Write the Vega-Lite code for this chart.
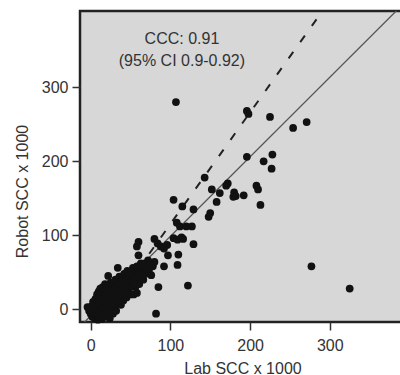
{
  "$schema": "https://vega.github.io/schema/vega-lite/v6.json",
  "width": 325,
  "height": 311,
  "autosize": {"type": "none"},
  "padding": {"left": 80, "top": 11, "right": 0, "bottom": 53},
  "background": "white",
  "config": {
    "view": {"fill": "#d7d7d7", "stroke": "#222222", "strokeWidth": 2.5},
    "font": "Liberation Sans",
    "axis": {
      "domain": false,
      "grid": false,
      "tickSize": 8,
      "tickWidth": 1.5,
      "tickColor": "#333333",
      "labelFontSize": 16,
      "labelColor": "#333333",
      "titleFontSize": 16,
      "titleFontWeight": "normal",
      "titleColor": "#333333",
      "titleBaseline": "alphabetic"
    }
  },
  "datasets": {
    "points": [
      {"lab": -4, "robot": 3}, {"lab": -2, "robot": -2}, {"lab": 0, "robot": -6}, {"lab": 1, "robot": 4}, {"lab": 2, "robot": -10},
      {"lab": 3, "robot": 0}, {"lab": 3, "robot": 10}, {"lab": 4, "robot": -5}, {"lab": 5, "robot": -12}, {"lab": 5, "robot": 6},
      {"lab": 6, "robot": 14}, {"lab": 6, "robot": -2}, {"lab": 7, "robot": -8}, {"lab": 8, "robot": 2}, {"lab": 8, "robot": 20},
      {"lab": 9, "robot": -14}, {"lab": 9, "robot": 10}, {"lab": 10, "robot": -4}, {"lab": 10, "robot": 24}, {"lab": 11, "robot": 5},
      {"lab": 11, "robot": 16}, {"lab": 12, "robot": -10}, {"lab": 12, "robot": 28}, {"lab": 13, "robot": 0}, {"lab": 13, "robot": 12},
      {"lab": 14, "robot": 20}, {"lab": 14, "robot": -13}, {"lab": 15, "robot": 6}, {"lab": 15, "robot": 30}, {"lab": 16, "robot": -6},
      {"lab": 16, "robot": 15}, {"lab": 17, "robot": 24}, {"lab": 17, "robot": 2}, {"lab": 18, "robot": 10}, {"lab": 18, "robot": 34},
      {"lab": 19, "robot": -10}, {"lab": 19, "robot": 18}, {"lab": 20, "robot": 26}, {"lab": 20, "robot": 4}, {"lab": 21, "robot": 12},
      {"lab": 21, "robot": -4}, {"lab": 22, "robot": 45}, {"lab": 22, "robot": 20}, {"lab": 23, "robot": 30}, {"lab": 23, "robot": 8},
      {"lab": 24, "robot": -12}, {"lab": 24, "robot": 15}, {"lab": 25, "robot": 24}, {"lab": 25, "robot": 36}, {"lab": 26, "robot": 2},
      {"lab": 26, "robot": 18}, {"lab": 27, "robot": 10}, {"lab": 27, "robot": 28}, {"lab": 28, "robot": -6}, {"lab": 28, "robot": 22},
      {"lab": 29, "robot": 34}, {"lab": 30, "robot": 14}, {"lab": 30, "robot": 4}, {"lab": 31, "robot": 26}, {"lab": 31, "robot": 40},
      {"lab": 32, "robot": 18}, {"lab": 32, "robot": -2}, {"lab": 33, "robot": 30}, {"lab": 34, "robot": 10}, {"lab": 34, "robot": 56},
      {"lab": 35, "robot": 22}, {"lab": 35, "robot": 38}, {"lab": 36, "robot": 44}, {"lab": 36, "robot": 14}, {"lab": 37, "robot": 28},
      {"lab": 38, "robot": 6}, {"lab": 38, "robot": 34}, {"lab": 39, "robot": 20}, {"lab": 40, "robot": 42}, {"lab": 40, "robot": 28},
      {"lab": 41, "robot": 12}, {"lab": 42, "robot": 36}, {"lab": 42, "robot": 48}, {"lab": 43, "robot": 22}, {"lab": 44, "robot": 30},
      {"lab": 45, "robot": 40}, {"lab": 45, "robot": 16}, {"lab": 46, "robot": 52}, {"lab": 47, "robot": 26}, {"lab": 48, "robot": 36},
      {"lab": 49, "robot": 44}, {"lab": 50, "robot": 20}, {"lab": 50, "robot": 30}, {"lab": 51, "robot": 48}, {"lab": 52, "robot": 38},
      {"lab": 53, "robot": 56}, {"lab": 54, "robot": 20}, {"lab": 55, "robot": 42}, {"lab": 56, "robot": 30}, {"lab": 57, "robot": 50},
      {"lab": 58, "robot": 22}, {"lab": 58, "robot": 55}, {"lab": 59, "robot": 40}, {"lab": 60, "robot": 46}, {"lab": 61, "robot": 34},
      {"lab": 62, "robot": 52}, {"lab": 63, "robot": 60}, {"lab": 64, "robot": 44}, {"lab": 65, "robot": 56}, {"lab": 66, "robot": 40},
      {"lab": 67, "robot": 50}, {"lab": 68, "robot": 62}, {"lab": 69, "robot": 48}, {"lab": 70, "robot": 56}, {"lab": 72, "robot": 66},
      {"lab": 73, "robot": 52}, {"lab": 74, "robot": 60}, {"lab": 76, "robot": 46}, {"lab": 78, "robot": 58}, {"lab": 80, "robot": 64},
      {"lab": 60, "robot": 91}, {"lab": 58, "robot": 85}, {"lab": 60, "robot": 73}, {"lab": 63, "robot": 62}, {"lab": 58, "robot": 58},
      {"lab": 80, "robot": 95}, {"lab": 84, "robot": 89}, {"lab": 88, "robot": 85}, {"lab": 92, "robot": 82}, {"lab": 96, "robot": 87},
      {"lab": 97, "robot": 73}, {"lab": 92, "robot": 58}, {"lab": 85, "robot": 30}, {"lab": 82, "robot": -6}, {"lab": 110, "robot": 74},
      {"lab": 109, "robot": 60}, {"lab": 104, "robot": 96}, {"lab": 109, "robot": 94}, {"lab": 114, "robot": 97}, {"lab": 116, "robot": 95},
      {"lab": 129, "robot": 88}, {"lab": 122, "robot": 32}, {"lab": 108, "robot": 117}, {"lab": 112, "robot": 112}, {"lab": 120, "robot": 112},
      {"lab": 127, "robot": 112}, {"lab": 104, "robot": 148}, {"lab": 115, "robot": 139}, {"lab": 129, "robot": 135}, {"lab": 150, "robot": 130},
      {"lab": 148, "robot": 125}, {"lab": 158, "robot": 145}, {"lab": 143, "robot": 178}, {"lab": 152, "robot": 162}, {"lab": 162, "robot": 157},
      {"lab": 172, "robot": 170}, {"lab": 170, "robot": 167}, {"lab": 180, "robot": 158}, {"lab": 179, "robot": 152}, {"lab": 182, "robot": 153},
      {"lab": 192, "robot": 154}, {"lab": 208, "robot": 167}, {"lab": 210, "robot": 162}, {"lab": 213, "robot": 141}, {"lab": 196, "robot": 206},
      {"lab": 217, "robot": 200}, {"lab": 227, "robot": 190}, {"lab": 228, "robot": 209}, {"lab": 196, "robot": 268}, {"lab": 198, "robot": 264},
      {"lab": 225, "robot": 260}, {"lab": 254, "robot": 245}, {"lab": 271, "robot": 253}, {"lab": 107, "robot": 280}, {"lab": 277, "robot": 58},
      {"lab": 325, "robot": 28}
    ],
    "fit": [{"lab": -14, "robot": -24}, {"lab": 395, "robot": 415.6}],
    "ccc": [{"lab": -14, "robot": -57}, {"lab": 300, "robot": 417}],
    "notes": [
      {"lab": 114.5, "robot": 358, "t": "CCC: 0.91"},
      {"lab": 114.5, "robot": 329, "t": "(95% CI 0.9-0.92)"}
    ]
  },
  "encoding": {
    "x": {
      "field": "lab",
      "type": "quantitative",
      "scale": {"domain": [-13.4, 394.4], "nice": false, "zero": false},
      "axis": {"values": [0, 100, 200, 300], "labelPadding": 7, "title": "Lab SCC x 1000", "titleY": 51}
    },
    "y": {
      "field": "robot",
      "type": "quantitative",
      "scale": {"domain": [-17.2, 403.1], "nice": false, "zero": false},
      "axis": {"values": [0, 100, 200, 300], "labelPadding": 4, "title": "Robot SCC x 1000", "titleX": -53, "titleY": 180}
    }
  },
  "layer": [
    {
      "data": {"name": "fit"},
      "mark": {"type": "line", "color": "#555555", "strokeWidth": 1.3, "clip": true}
    },
    {
      "data": {"name": "ccc"},
      "mark": {"type": "line", "color": "#222222", "strokeWidth": 2, "strokeDash": [8, 12], "clip": true}
    },
    {
      "data": {"name": "points"},
      "mark": {"type": "circle", "size": 60, "color": "#111111", "opacity": 1}
    },
    {
      "data": {"name": "notes"},
      "mark": {"type": "text", "fontSize": 16, "color": "#333333", "align": "center", "baseline": "alphabetic"},
      "encoding": {"text": {"field": "t", "type": "nominal"}}
    }
  ]
}
